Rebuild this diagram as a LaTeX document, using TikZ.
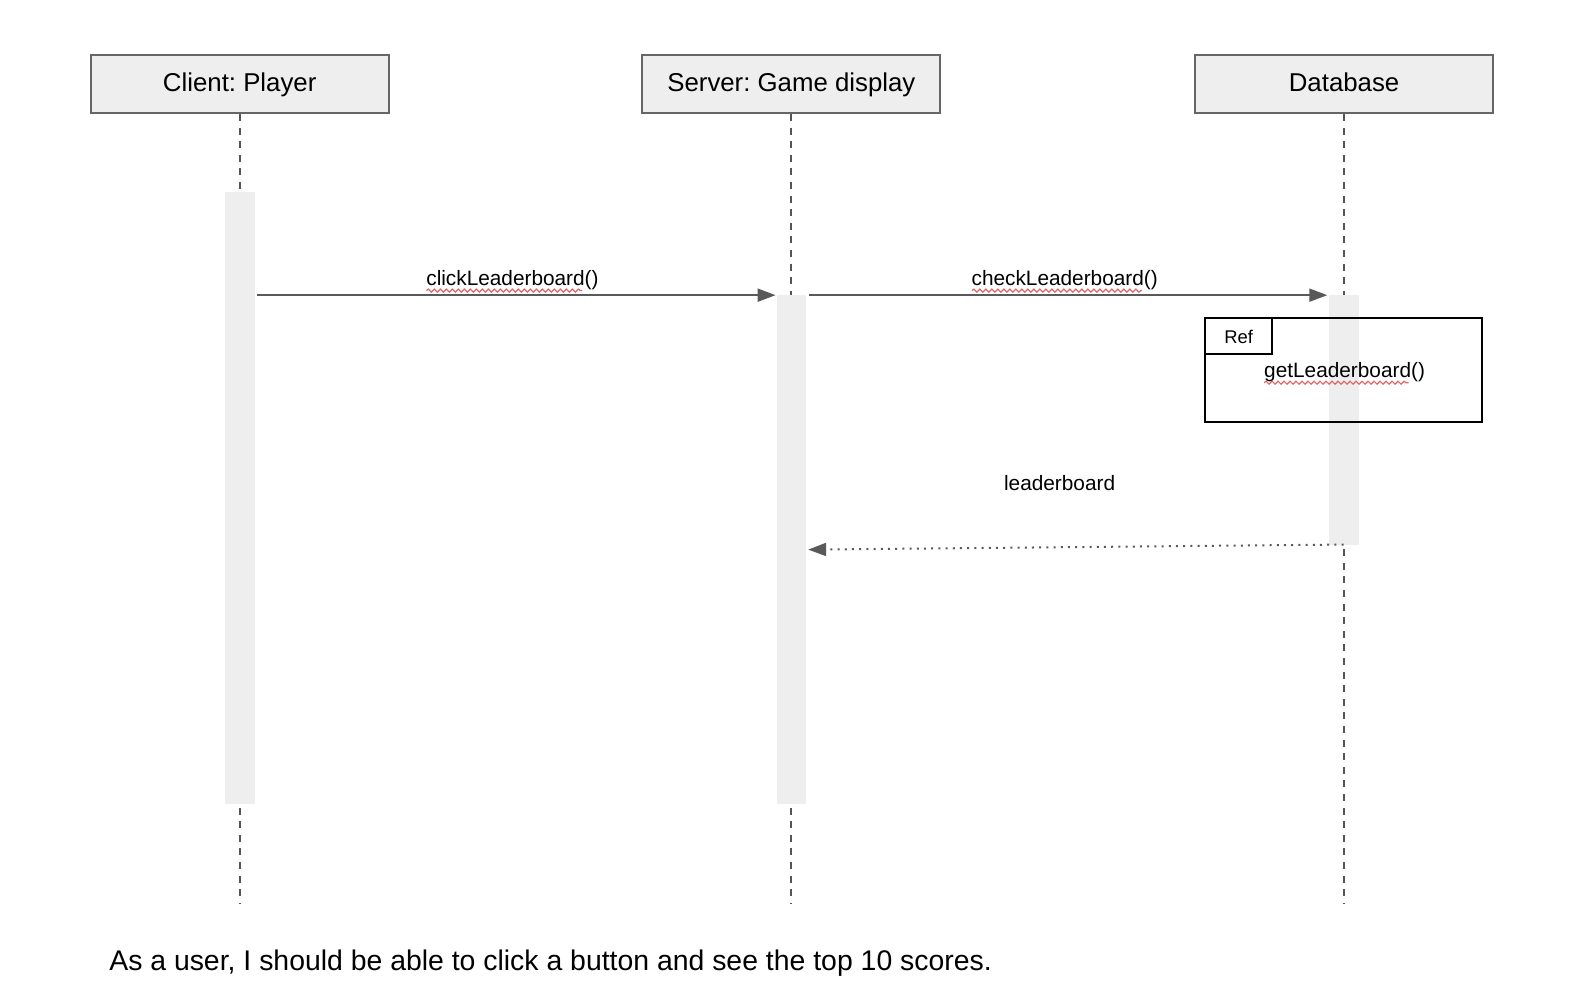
\documentclass[tikz,border=0pt]{standalone}
\usepackage{fontspec}
\setmainfont{Liberation Sans}
\usetikzlibrary{arrows.meta,decorations.pathmorphing}
\definecolor{boxfill}{HTML}{EEEEEE}
\definecolor{linegray}{HTML}{666666}
\definecolor{lifegray}{HTML}{555555}
\definecolor{arrgray}{HTML}{595959}
\definecolor{squigred}{HTML}{E06666}
\frenchspacing
\begin{document}
\begin{tikzpicture}[x=0.50893pt,y=-0.50893pt,
  captext/.style={text height=0.716em, text depth=0pt},
  actor/.style={draw=linegray, fill=boxfill, line width=1pt, minimum width=149.1pt, minimum height=29pt, inner sep=0pt, font=\fontsize{12.9}{15}\selectfont, captext},
  lifeline/.style={draw=lifegray, line width=1pt, dash pattern=on 3.5pt off 3.3pt},
  actbar/.style={fill=boxfill, draw=none, inner sep=0pt, minimum width=14.8pt},
  msg/.style={draw=arrgray, line width=1pt, -{Triangle[length=9pt,width=6.5pt]}},
  ret/.style={msg, dash pattern=on 1pt off 2.6pt},
  lbl/.style={font=\fontsize{10.4}{12}\selectfont, inner sep=0pt, captext},
  refbox/.style={draw=black, line width=1pt, inner sep=0pt},
  squig/.style={draw=squigred, line width=0.6pt, decorate, decoration={snake, segment length=3pt, amplitude=0.75pt}}
]
\useasboundingbox (0,0) rectangle (1568,978.5);

% actors
\node[actor] (client) at (235.5,82.5) {Client: Player};
\node[actor] (server) at (777.5,82.5) {Server: Game display};
\node[actor] (db) at (1320.5,82.5) {Database};

% lifeline ends
\coordinate (clientend) at (235.5,888);
\coordinate (serverend) at (777.5,888);
\coordinate (dbend) at (1320.5,888);

\draw[lifeline] (client.south) -- (clientend);
\draw[lifeline] (server.south) -- (serverend);
\draw[lifeline] (db.south) -- (dbend);

% activation bars
\node[actbar, minimum height=305.9pt] (clientbar) at (235.5,489.5) {};
\node[actbar, minimum height=254.5pt] (serverbar) at (777.5,540) {};
\node[actbar, minimum height=124.7pt] (dbbar) at (1320.5,412.5) {};

% messages
\coordinate (m1s) at (252,290);
\coordinate (m1e) at (762,290);
\draw[msg] (m1s) -- (m1e);
\node[lbl] (m1l) at (503.5,273.5) {clickLeaderboard()};
\draw[squig] (419,285.5) -- (572,285.5);

\coordinate (m2s) at (795,290);
\coordinate (m2e) at (1304,290);
\draw[msg] (m2s) -- (m2e);
\node[lbl] (m2l) at (1046,273.5) {checkLeaderboard()};
\draw[squig] (955,285.5) -- (1122,285.5);

% ref frame
\node[refbox, minimum width=138.4pt, minimum height=52.4pt] (ref) at (1320,363.5) {};
\node[refbox, anchor=north west, minimum width=33.6pt, minimum height=18.3pt, font=\fontsize{9.2}{11}\selectfont, captext] (reftag) at (ref.north west) {Ref};
\node[lbl] (refl) at (1321,364) {getLeaderboard()};
\draw[squig] (1242,376) -- (1384,376);

% return
\node[lbl] (m3l) at (1041,475) {leaderboard};
\coordinate (m3s) at (1320,535);
\coordinate (m3e) at (794,540);
\draw[ret] (m3s) -- (m3e);

% story
\node[anchor=west, inner sep=0pt, font=\fontsize{14.2}{17}\selectfont, captext] (story) at (107,946) {As a user, I should be able to click a button and see the top 10 scores.};
\end{tikzpicture}
\end{document}
